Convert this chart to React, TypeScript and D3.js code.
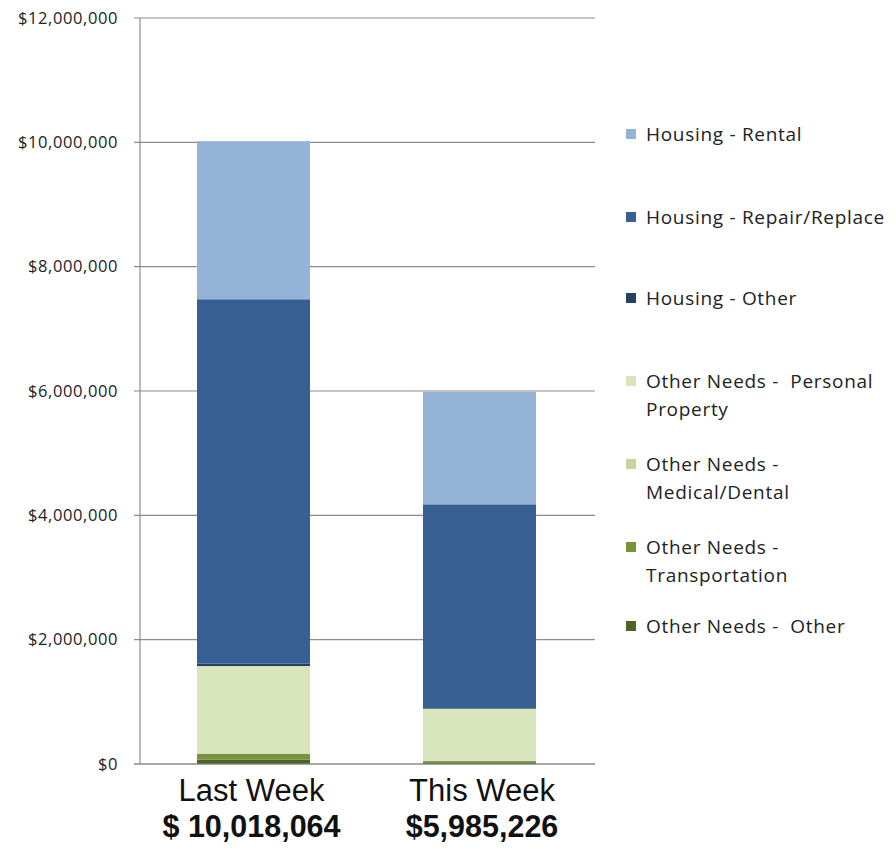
import React from "react";
import * as d3 from "d3";

const categories = ["Last Week", "This Week"];
const totalLabels = ["$ 10,018,064", "$5,985,226"];
const seriesNames = [
  "Other Needs -  Other",
  "Other Needs - Transportation",
  "Other Needs - Medical/Dental",
  "Other Needs -  Personal Property",
  "Housing - Other",
  "Housing - Repair/Replace",
  "Housing - Rental",
];
const seriesColors = ["#4f6228", "#77933c", "#c4d79b", "#d8e4bc", "#244062", "#366092", "#95b3d7"];
const lastWeekValues = [72000, 92000, 8000, 1404000, 40000, 5860000, 2542064];
const thisWeekValues = [15000, 32000, 5000, 837000, 10000, 3278000, 1808226];
const yTicks = [0, 2000000, 4000000, 6000000, 8000000, 10000000, 12000000];

// legend entries (top to bottom) with wrapped lines
const legendLines: string[][] = [
  ["Housing - Rental"],
  ["Housing - Repair/Replace"],
  ["Housing - Other"],
  ["Other Needs -  Personal", "Property"],
  ["Other Needs -", "Medical/Dental"],
  ["Other Needs -", "Transportation"],
  ["Other Needs -  Other"],
];
const legendColors = ["#95b3d7", "#366092", "#244062", "#d8e4bc", "#c4d79b", "#77933c", "#4f6228"];
const legendY = [134, 217, 298, 381, 464, 547, 626];

export default function App() {
  const W = 896, H = 850;
  const left = 140, right = 595, top = 18, bottom = 764;
  const y = d3.scaleLinear().domain([0, 12000000]).range([bottom, top]);
  const centers = [253.5, 479.5];
  const xc = d3.scalePoint().domain(categories).range([centers[0], centers[1]]);
  const barW = 113;
  const labelShift = [-2, 2.5];
  const data = categories.map((c, i) => {
    const vals = i === 0 ? lastWeekValues : thisWeekValues;
    const obj: any = { cat: c };
    seriesNames.forEach((s, j) => (obj[s] = vals[j]));
    return obj;
  });
  const stack = d3.stack().keys(seriesNames)(data as any);
  const fmt = (v: number) => "$" + d3.format(",")(v);
  const font = "'Open Sans', Lato, sans-serif";
  return (
    <svg width={W} height={H} style={{ position: "absolute", left: 0, top: 0, background: "#fff" }}>
      {yTicks.map((t) => (
        <g key={t}>
          <line x1={134} x2={right} y1={y(t)} y2={y(t)} stroke="#8c8c8c" strokeWidth={1.2} />
          <text x={118} y={y(t)} dy="0.35em" textAnchor="end" fontFamily={font} fontSize={16.5} letterSpacing={0.6} fill="#222">
            {fmt(t)}
          </text>
        </g>
      ))}
      <line x1={left} x2={left} y1={top} y2={bottom} stroke="#8c8c8c" strokeWidth={1.2} />
      {stack.map((layer, j) => (
        <g key={j} fill={seriesColors[j]}>
          {layer.map((d: any, i: number) => (
            <rect
              key={i}
              x={(xc(categories[i]) as number) - barW / 2}
              width={barW}
              y={y(d[1])}
              height={Math.max(0, y(d[0]) - y(d[1]))}
            />
          ))}
        </g>
      ))}
      <line x1={134} x2={right} y1={bottom} y2={bottom} stroke="#8c8c8c" strokeWidth={1.2} />
      {categories.map((c, i) => (
        <g key={c}>
          <text x={(xc(c) as number) + labelShift[i]} y={801} textAnchor="middle" fontFamily="'Liberation Sans', Arial, sans-serif" fontSize={31} fill="#111">
            {c}
          </text>
          <text x={(xc(c) as number) + labelShift[i]} y={837} textAnchor="middle" fontFamily="'Liberation Sans', Arial, sans-serif" fontSize={30.5} fontWeight="bold" fill="#111">
            {totalLabels[i]}
          </text>
        </g>
      ))}
      {legendLines.map((lines, i) => (
        <g key={i}>
          <rect x={626} y={legendY[i] - 5} width={10} height={10} fill={legendColors[i]} />
          {lines.map((l, k) => (
            <text key={k} x={646} y={legendY[i] + k * 28} dy="0.35em" fontFamily={font} fontSize={19} letterSpacing={0.7} fill="#222" style={{ whiteSpace: "pre" }}>
              {l}
            </text>
          ))}
        </g>
      ))}
    </svg>
  );
}
